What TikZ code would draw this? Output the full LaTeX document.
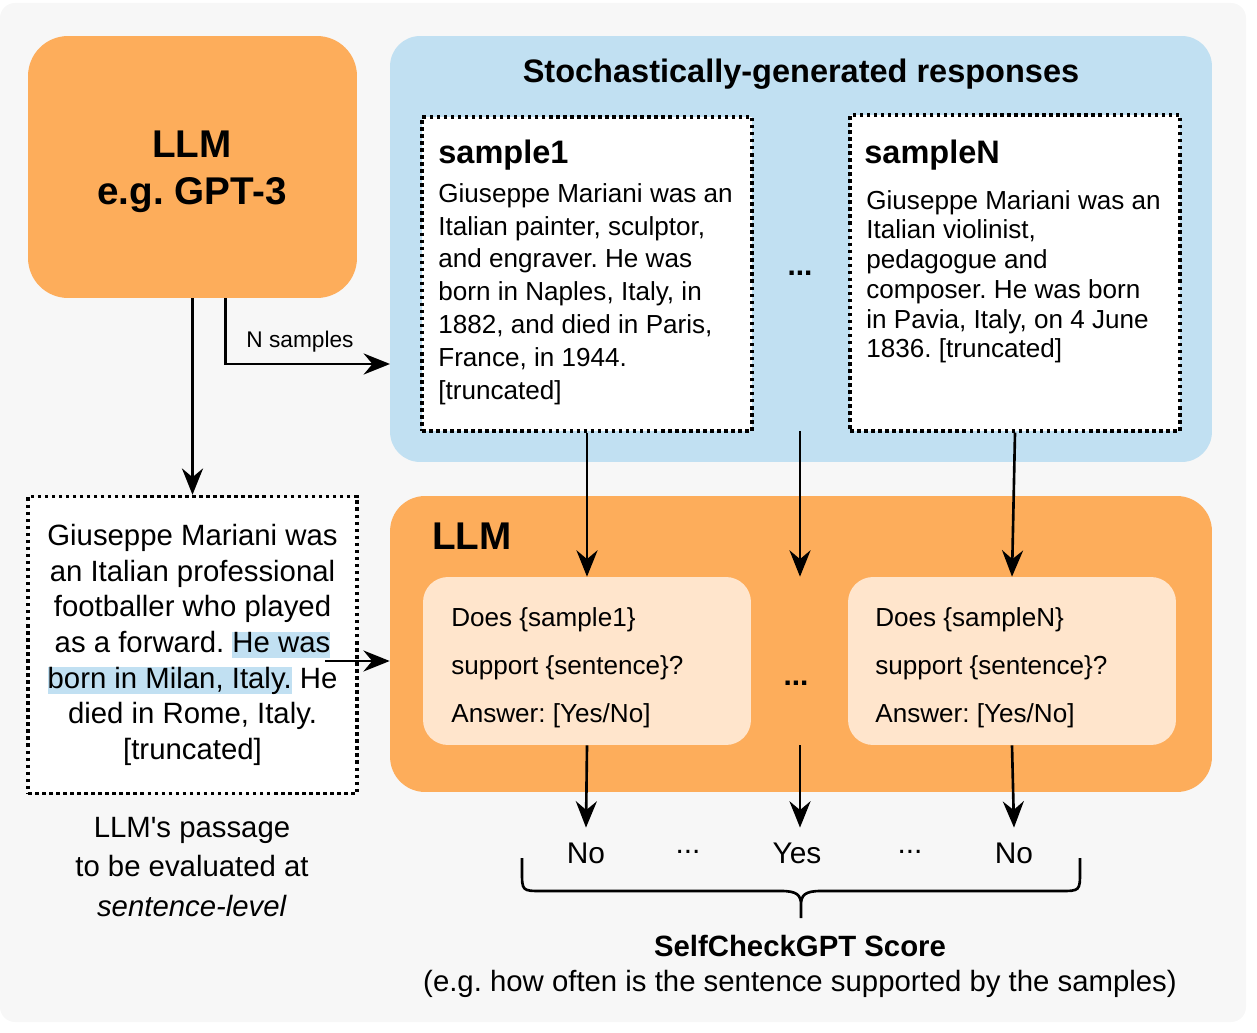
\documentclass[tikz,border=0pt]{standalone}
\usepackage{fontspec}
\setmainfont{Liberation Sans}
\usetikzlibrary{arrows.meta,calc}

\definecolor{bggray}{HTML}{F7F7F7}
\definecolor{llmorange}{RGB}{253,173,91}
\definecolor{respblue}{RGB}{193,224,242}
\definecolor{promptpeach}{RGB}{255,229,204}

\newcommand{\bigfont}{\fontsize{22}{27}\selectfont\bfseries}
\newcommand{\titlefont}{\fontsize{18.5}{22}\selectfont\bfseries}
\newcommand{\samplefont}{\fontsize{14.85}{18.7}\selectfont}
\newcommand{\samplenfont}{\fontsize{14.85}{16.9}\selectfont}
\newcommand{\promptfont}{\fontsize{14.85}{27.2}\selectfont}
\newcommand{\passagefont}{\fontsize{16.7}{20.3}\selectfont}
\newcommand{\captionfont}{\fontsize{16.7}{22.4}\selectfont}
\newcommand{\smallfont}{\fontsize{12.9}{15}\selectfont}
\newcommand{\ansfont}{\fontsize{17}{20}\selectfont}
\newcommand{\hlbox}[1]{{\setlength{\fboxsep}{0pt}\colorbox{respblue}{\rule[-0.2em]{0pt}{0.9em}#1}}}

\begin{document}
\frenchspacing
\begin{tikzpicture}[x=0.02cm,y=-0.02cm,
  conn/.style={line width=1.5pt,-{Stealth[length=15pt,width=12pt,inset=5pt]}},
  dotbox/.style={draw,fill=white,line width=2pt,dash pattern=on 2pt off 2pt},
  promptbox/.style={fill=promptpeach,rounded corners=0.5cm,minimum width=6.56cm,minimum height=3.36cm},
  ans/.style={font=\ansfont,inner sep=0pt,outer ysep=0.3cm}]
  \useasboundingbox (0,0) rectangle (1257,1033);
  \fill[bggray,rounded corners=0.3cm] (0,3) rectangle (1246,1022);

  %generator
  \node[fill=llmorange,rounded corners=0.8cm,minimum width=6.58cm,minimum height=5.24cm] (gen) at (192.5,167) {};
  \node[align=center,font=\bigfont,inner sep=0pt] (gentext) at (192,172) {LLM\\e.g. GPT-3};

  %sampled responses
  \node[fill=respblue,rounded corners=0.6cm,minimum width=16.44cm,minimum height=8.52cm] (resp) at (801,249) {};
  \node[font=\titlefont] (resptitle) at (801,74) {Stochastically-generated responses};
  \node[dotbox,minimum width=6.6cm,minimum height=6.28cm] (s1) at (587,274) {};
  \node[dotbox,minimum width=6.6cm,minimum height=6.32cm] (sN) at (1015,273) {};
  \node[anchor=base west,inner sep=0pt,font=\titlefont] (s1title) at (438,164) {sample1};
  \node[anchor=base west,inner sep=0pt,font=\titlefont] (sNtitle) at (864,164) {sampleN};
  \node[anchor=north west,inner sep=0pt,align=left,font=\samplefont] (s1text) at (438,183)
    {Giuseppe Mariani was an\\Italian painter, sculptor,\\and engraver. He was\\born in Naples, Italy, in\\1882, and died in Paris,\\France, in 1944.\\{[truncated]}};
  \node[anchor=north west,inner sep=0pt,align=left,font=\samplenfont] (sNtext) at (866,190)
    {Giuseppe Mariani was an\\Italian violinist,\\pedagogue and\\composer. He was born\\in Pavia, Italy, on 4 June\\1836. [truncated]};
  \node[font=\ansfont\bfseries,inner sep=0pt] (respdots) at (800,273) {...};

  %passage
  \node[dotbox,minimum width=6.58cm,minimum height=5.94cm,align=center,font=\passagefont] (passage) at (192.5,645)
    {Giuseppe Mariani was\\an Italian professional\\footballer who played\\as a forward. \hlbox{He was}\\\hlbox{born in Milan, Italy.} He\\died in Rome, Italy.\\{[truncated]}};
  \node[align=center,font=\captionfont] (caption) at (192,867)
    {LLM\textquotesingle s passage\\to be evaluated at\\\textit{sentence-level}};

  %checking LLM
  \node[fill=llmorange,rounded corners=0.7cm,minimum width=16.44cm,minimum height=5.92cm] (judge) at (801,644) {};
  \node[anchor=base west,inner sep=0pt,font=\bigfont] (judgetitle) at (432,549) {LLM};
  \node[promptbox] (p1) at (587,661) {};
  \node[promptbox] (pN) at (1012,661) {};
  \node[anchor=west,inner sep=0pt,align=left,font=\promptfont] (p1text) at (451,668)
    {Does \{sample1\}\\support \{sentence\}?\\Answer: [Yes/No]};
  \node[anchor=west,inner sep=0pt,align=left,font=\promptfont] (pNtext) at (875,668)
    {Does \{sampleN\}\\support \{sentence\}?\\Answer: [Yes/No]};
  \node[font=\ansfont\bfseries,inner sep=0pt] (judgedots) at (796,683) {...};

  %answers
  \node[ans] (no1) at (586,853) {No};
  \node[ans] (yes) at (797,853) {Yes};
  \node[ans] (no2) at (1014,853) {No};
  \node[font=\ansfont,inner sep=0pt] (ansdots1) at (688,852) {...};
  \node[font=\ansfont,inner sep=0pt] (ansdots2) at (910,852) {...};
  \node[font=\passagefont\bfseries] (score) at (800,946) {SelfCheckGPT Score};
  \node[font=\passagefont] (scorenote) at (800,984) {(e.g. how often is the sentence supported by the samples)};

  %connectors
  \coordinate (nsamp) at (390,364);
  \coordinate (pout) at (325,661);
  \coordinate (midtop) at (800,431);
  \coordinate (midbot) at (800,745);
  \draw[conn] (gen.south) -- (passage.north);
  \draw[conn] ($(gen.south)+(33,0)$) |- (nsamp);
  \node[font=\smallfont] (nlabel) at (300,342) {N samples};
  \draw[conn] (pout) -- (pout -| judge.west);
  \draw[conn] (s1.south) -- (p1.north);
  \draw[conn] (midtop) -- (midtop |- p1.north);
  \draw[conn] (sN.south) -- (pN.north);
  \draw[conn] (p1.south) -- (no1.north);
  \draw[conn] (midbot) -- (midbot |- yes.north);
  \draw[conn] (pN.south) -- (no2.north);

  %brace
  \draw[line width=1.5pt] (522,858) -- (522,871) .. controls (522,891) .. (542,891) -- (781,891)
    .. controls (797,891) and (801,895) .. (801,905) -- (801,918)
    (1080,858) -- (1080,871) .. controls (1080,891) .. (1060,891) -- (821,891)
    .. controls (805,891) and (801,895) .. (801,905);
\end{tikzpicture}
\end{document}
